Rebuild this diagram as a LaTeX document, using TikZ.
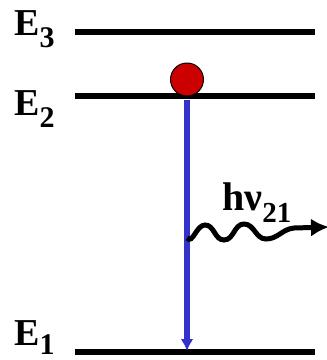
\documentclass[tikz,border=0pt]{standalone}
\usepackage{fontspec}
\setmainfont{Liberation Serif}
\usetikzlibrary{arrows.meta}
\definecolor{electronred}{RGB}{204,0,0}
\definecolor{transblue}{RGB}{51,51,204}
\newcommand{\lvl}[2][12pt]{\fontsize{38}{38}\selectfont\bfseries E\raisebox{-#1}{\fontsize{30}{30}\selectfont #2}}

\begin{document}
\begin{tikzpicture}[x=1pt,y=-1pt,>=Latex,
  level/.style={line width=6pt},
  lbl/.style={anchor=base west,inner sep=0pt},
  electron/.style={circle,draw=black,line width=1pt,fill=electronred,minimum size=33pt,inner sep=0pt},
  trans/.style={transblue,line width=5.5pt,-{Latex[length=12pt,width=13pt]}},
  photon/.style={line width=5pt,-{Latex[length=18pt,width=18pt]}}]
  \useasboundingbox (0,0) rectangle (327,360);
  % niveles de energia
  \coordinate (e3l) at (75,32);  \coordinate (e3r) at (315,32);
  \coordinate (e2l) at (75,96);  \coordinate (e2r) at (315,96);
  \coordinate (e1l) at (75,352); \coordinate (e1r) at (315,352);
  \draw[level] (e3l) -- (e3r);
  \draw[level] (e2l) -- (e2r);
  \draw[level] (e1l) -- (e1r);
  \node[lbl] (e3lbl) at (14,35) {\lvl{3}};
  \node[lbl] (e2lbl) at (14,115) {\lvl{2}};
  \node[lbl] (e1lbl) at (14,345) {\lvl[9pt]{1}};
  % electron y transicion E2 -> E1
  \node[electron] (el) at (187,79.5) {};
  \coordinate (e1c) at (187,351);
  \draw[trans,shorten <=3pt] (el.south) -- (e1c);
  % foton emitido
  \coordinate (w0) at (187,238);
  \coordinate (w1) at (205,225);
  \coordinate (w2) at (224,240);
  \coordinate (w3) at (244,224);
  \coordinate (w4) at (266,239);
  \coordinate (w5) at (294,228);
  \coordinate (w6) at (329,227);
  \draw[photon] (w0) to[out=-50,in=180] (w1) to[out=0,in=180] (w2)
    to[out=0,in=180] (w3) to[out=0,in=180] (w4) to[out=0,in=185] (w5) -- (w6);
  \node[lbl] (hnu) at (222,210) {\fontsize{40}{40}\selectfont\bfseries hν\raisebox{-12pt}{\fontsize{29}{29}\selectfont 21}};
\end{tikzpicture}
\end{document}
